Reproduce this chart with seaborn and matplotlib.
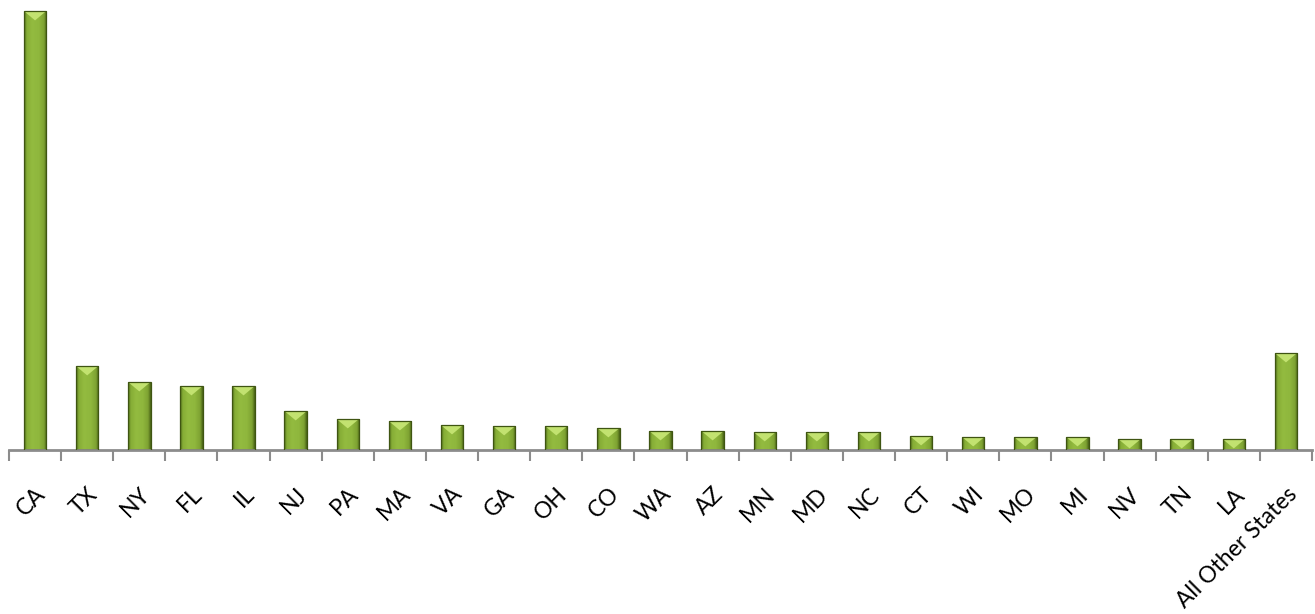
import numpy as np
import pandas as pd
import matplotlib
matplotlib.use("Agg")
import matplotlib.pyplot as plt
import seaborn as sns
from matplotlib.colors import LinearSegmentedColormap
from matplotlib.patches import Polygon

# Values (relative units)
states = ['CA', 'TX', 'NY', 'FL', 'IL', 'NJ', 'PA', 'MA', 'VA', 'GA', 'OH', 'CO',
          'WA', 'AZ', 'MN', 'MD', 'NC', 'CT', 'WI', 'MO', 'MI', 'NV', 'TN', 'LA',
          'All Other States']
values = [439, 84, 68, 64, 64, 39, 31, 29, 25, 24, 24, 22,
          19, 19, 18, 18, 18, 14, 13, 13, 13, 11, 11, 11, 97]

df = pd.DataFrame({'State': states, 'Value': values})

sns.set_style("white")
plt.rcParams['font.family'] = ['Lato', 'DejaVu Sans']

fig = plt.figure(figsize=(13.15, 6.14), dpi=100)
ax = fig.add_axes([9 / 1315, 164 / 614, 1303 / 1315, 442 / 614])

sns.barplot(data=df, x='State', y='Value', color='#8db33a', width=0.43,
            edgecolor='#3f5512', linewidth=0.9, ax=ax)

n = len(states)
ax.set_xlim(-0.5, n - 0.5)
ax.set_ylim(0, 442)

# bevel look: darker side edges, flat middle, light top cap
cmap = LinearSegmentedColormap.from_list(
    'bev', [(0.0, '#51701a'), (0.12, '#86ad36'), (0.35, '#93bb40'),
            (0.65, '#8fb73d'), (0.88, '#7ea232'), (1.0, '#4a6416')])
grad = np.linspace(0, 1, 64).reshape(1, -1)
px_per_x = 1303 / n
px_per_y = 442 / 442
for p in ax.patches:
    x0, y0 = p.get_x(), p.get_y()
    w, h = p.get_width(), p.get_height()
    im = ax.imshow(grad, cmap=cmap, aspect='auto',
                   extent=[x0, x0 + w, y0, y0 + h], zorder=2)
    im.set_clip_path(p)
    cap = (w * px_per_x) * 0.42 / px_per_y
    cap = min(cap, h)
    tri = Polygon([[x0, y0 + h], [x0 + w, y0 + h], [x0 + w / 2, y0 + h - cap]],
                  closed=True, facecolor='#c2e270', edgecolor='none', zorder=3)
    ax.add_patch(tri)
    p.set_zorder(4)
    p.set_facecolor('none')

for s in ['top', 'right', 'left']:
    ax.spines[s].set_visible(False)
ax.spines['bottom'].set_color('#8c8c8c')
ax.spines['bottom'].set_linewidth(2)

ax.set_yticks([])
ax.set_xlabel('')
ax.set_ylabel('')

ax.set_xticks(range(n))
ax.set_xticklabels(states, rotation=45, ha='right', rotation_mode='anchor',
                   fontsize=16.5, color='black')
ax.tick_params(axis='x', which='major', length=0, pad=24)
ax.set_xticks(np.arange(-0.5, n, 1), minor=True)
ax.tick_params(axis='x', which='minor', bottom=True, length=8, width=1.5,
               color='#8c8c8c', direction='out')

fig.savefig('out.png', dpi=100)
